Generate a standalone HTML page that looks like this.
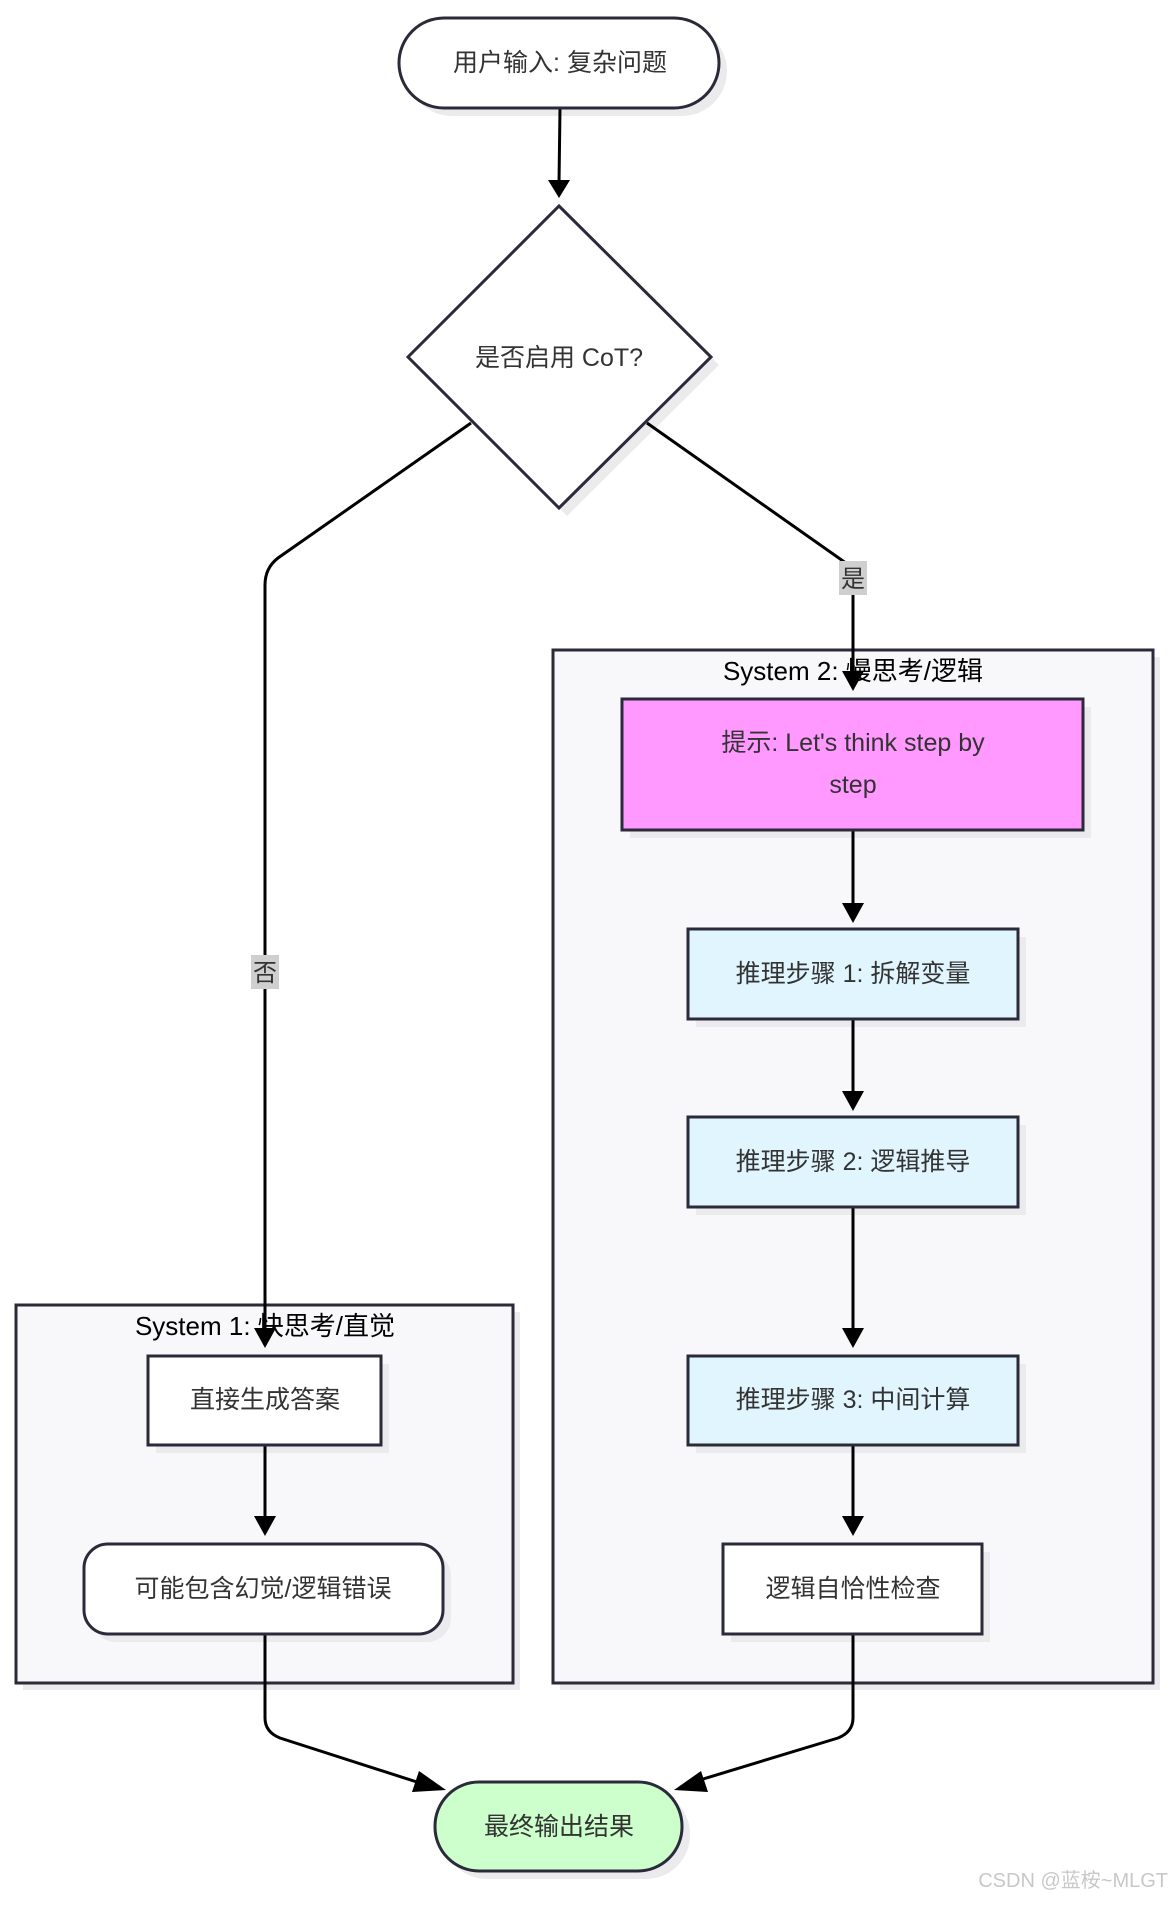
<!DOCTYPE html>
<html><head><meta charset="utf-8"><style>
html,body{margin:0;padding:0;background:#fff}
svg text{font-family:"Liberation Sans","Noto Sans CJK SC",sans-serif;fill:#333}
</style></head><body>
<svg width="1176" height="1901" viewBox="0 0 1176 1901" xmlns="http://www.w3.org/2000/svg">
<defs>
<marker id="a" viewBox="0 0 10 10" refX="9" refY="5" markerWidth="6" markerHeight="6" orient="auto-start-reverse" markerUnits="userSpaceOnUse">
</marker>
</defs>
<g fill="#ebebed">
<rect x="23" y="1312" width="497" height="378"/>
<rect x="560" y="657" width="600" height="1033"/>
</g>
<rect x="16" y="1305" width="497" height="378" fill="#f8f8fa" stroke="#2a2a3a" stroke-width="3"/>
<rect x="553" y="650" width="600" height="1033" fill="#f8f8fa" stroke="#2a2a3a" stroke-width="3"/>
<text x="265" y="1335" font-size="26" text-anchor="middle" style="fill:#000">System 1: 快思考/直觉</text>
<text x="853" y="680" font-size="26" text-anchor="middle" style="fill:#000">System 2: 慢思考/逻辑</text>

<!-- shadows -->
<g fill="#ebebed">
<rect x="407" y="26" width="320" height="90" rx="45"/>
<polygon points="567,214 719,365 567,516 416,365"/>
<rect x="630" y="707" width="461" height="131"/>
<rect x="696" y="937" width="330" height="90"/>
<rect x="696" y="1125" width="330" height="90"/>
<rect x="696" y="1364" width="330" height="89"/>
<rect x="731" y="1552" width="259" height="90"/>
<rect x="156" y="1364" width="233" height="89"/>
<rect x="92" y="1552" width="359" height="90" rx="24"/>
<rect x="443" y="1790" width="247" height="89" rx="44"/>
</g>

<!-- edges -->
<g fill="none" stroke="#000" stroke-width="3">
<line x1="560" y1="108" x2="559" y2="184"/>
<path d="M471,423 L278,558 Q265,568 265,585 L265,1334"/>
<path d="M647,423 L853,568 L853,677"/>
<line x1="853" y1="830" x2="853" y2="909"/>
<line x1="853" y1="1019" x2="853" y2="1097"/>
<line x1="853" y1="1207" x2="853" y2="1334"/>
<line x1="853" y1="1445" x2="853" y2="1522"/>
<line x1="265" y1="1445" x2="265" y2="1522"/>
<path d="M265,1634 L265,1718 Q265,1732 280,1738 L420,1783"/>
<path d="M853,1634 L853,1718 Q853,1732 838,1738 L690,1783"/>
</g>
<g fill="#000">
<polygon points="559,198 548,180 570,180"/>
<polygon points="265,1348 254,1328 276,1328"/>
<polygon points="853,691 842,671 864,671"/>
<polygon points="853,923 842,903 864,903"/>
<polygon points="853,1111 842,1091 864,1091"/>
<polygon points="853,1348 842,1328 864,1328"/>
<polygon points="853,1536 842,1516 864,1516"/>
<polygon points="265,1536 254,1516 276,1516"/>
<polygon points="446,1790 419,1771 412,1792"/>
<polygon points="674,1790 701,1771 708,1792"/>
</g>
<rect x="251" y="955" width="28" height="34" fill="#cfcfcf"/>
<text x="265" y="981" font-size="24" text-anchor="middle">否</text>
<rect x="839" y="561" width="28" height="34" fill="#cfcfcf"/>
<text x="853" y="587" font-size="24" text-anchor="middle">是</text>

<!-- nodes -->
<g stroke="#2a2a3a" stroke-width="3">
<rect x="399" y="18" width="320" height="90" rx="45" fill="#fff"/>
<polygon points="559,206 711,357 559,508 408,357" fill="#fff"/>
<rect x="622" y="699" width="461" height="131" fill="#ff99ff"/>
<rect x="688" y="929" width="330" height="90" fill="#e1f5fe"/>
<rect x="688" y="1117" width="330" height="90" fill="#e1f5fe"/>
<rect x="688" y="1356" width="330" height="89" fill="#e1f5fe"/>
<rect x="723" y="1544" width="259" height="90" fill="#fff"/>
<rect x="148" y="1356" width="233" height="89" fill="#fff"/>
<rect x="84" y="1544" width="359" height="90" rx="24" fill="#fff"/>
<rect x="435" y="1782" width="247" height="89" rx="44" fill="#ccffcc"/>
</g>
<g font-size="25" text-anchor="middle">
<text x="560" y="71">用户输入: 复杂问题</text>
<text x="559" y="366">是否启用 CoT?</text>
<text x="853" y="751">提示: Let's think step by</text>
<text x="853" y="793">step</text>
<text x="853" y="982">推理步骤 1: 拆解变量</text>
<text x="853" y="1170">推理步骤 2: 逻辑推导</text>
<text x="853" y="1408">推理步骤 3: 中间计算</text>
<text x="853" y="1597">逻辑自恰性检查</text>
<text x="265" y="1408">直接生成答案</text>
<text x="263" y="1597">可能包含幻觉/逻辑错误</text>
<text x="559" y="1835">最终输出结果</text>
</g>
<text x="1168" y="1887" font-size="20" text-anchor="end" style="fill:#c8c8c8">CSDN @蓝桉~MLGT</text>
</svg>
</body></html>
